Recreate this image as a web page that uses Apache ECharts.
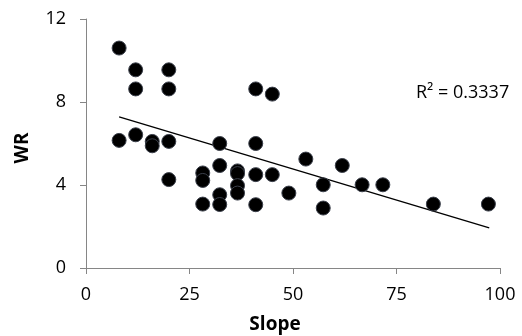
<!DOCTYPE html>
<html><head><meta charset="utf-8">
<script src="https://cdn.jsdelivr.net/npm/echarts@6/dist/echarts.min.js"></script>
<style>html,body{margin:0;padding:0;background:#fff}#c{width:522px;height:336px}</style>
</head><body><div id="c"></div>
<script>
const slope = [8, 8, 12, 12, 12, 16, 16, 20, 20, 20, 20, 28.2, 28.2, 28.2, 32.3, 32.3, 32.3, 32.3, 36.6, 36.6, 36.6, 36.6, 41, 41, 41, 41, 45, 45, 49, 53.1, 57.3, 57.3, 61.9, 66.7, 71.7, 83.9, 97.2];
const wr = [10.6, 6.15, 9.55, 8.63, 6.42, 6.1, 5.89, 9.55, 8.63, 6.1, 4.26, 4.58, 4.22, 3.08, 6.0, 4.94, 3.53, 3.06, 4.68, 4.55, 3.97, 3.61, 8.63, 6.0, 4.5, 3.05, 8.38, 4.5, 3.61, 5.25, 4.01, 2.89, 4.94, 4.01, 4.01, 3.08, 3.08];
const trendX = [8, 97.4];
const trendY = [7.28, 1.93];
const xTicks = [0, 25, 50, 75, 100];
const yTicks = [0, 4, 8, 12];
const xTitle = 'Slope';
const yTitle = 'WR';
const r2Label = 'R\u00B2 = 0.3337';

const chart = echarts.init(document.getElementById('c'), null, {renderer: 'canvas'});
const font = '"Open Sans", Lato, sans-serif';
const axisCol = '#868686';
chart.setOption({
  animation: false,
  grid: {left: 86, right: 22, top: 19, bottom: 68},
  xAxis: {
    type: 'value', min: xTicks[0], max: xTicks[xTicks.length - 1], interval: 25,
    axisLine: {show: true, lineStyle: {color: axisCol, width: 1}},
    axisTick: {show: true, inside: false, length: 6, lineStyle: {color: axisCol}},
    axisLabel: {margin: 18, fontFamily: font, fontSize: 18, color: '#000'},
    splitLine: {show: false}
  },
  yAxis: {
    type: 'value', min: yTicks[0], max: yTicks[yTicks.length - 1], interval: 4,
    axisLine: {show: true, lineStyle: {color: axisCol, width: 1}},
    axisTick: {show: true, inside: false, length: 6, lineStyle: {color: axisCol}},
    axisLabel: {margin: 20, fontFamily: font, fontSize: 18, color: '#000'},
    splitLine: {show: false}
  },
  series: [
    {
      type: 'line', data: trendX.map((x, i) => [x, trendY[i]]), showSymbol: false, symbol: 'none',
      lineStyle: {color: '#000', width: 1.3}, z: 1, silent: true
    },
    {
      type: 'scatter', data: slope.map((x, i) => [x, wr[i]]), symbolSize: 14,
      itemStyle: {color: '#000', borderColor: '#3a3f4a', borderWidth: 1, opacity: 1}, z: 2
    }
  ],
  graphic: [
    {type: 'text', left: 416, top: 84,
     style: {text: r2Label, fontFamily: font, fontSize: 18, fill: '#000'}},
    {type: 'text', x: 275, y: 325,
     style: {text: xTitle, fontFamily: font, fontSize: 19, fontWeight: 'bold', fill: '#000', align: 'center', verticalAlign: 'middle'}},
    {type: 'text', x: 23, y: 148, rotation: Math.PI / 2,
     style: {text: yTitle, fontFamily: font, fontSize: 19, fontWeight: 'bold', fill: '#000', align: 'center', verticalAlign: 'middle'}}
  ]
});
</script></body></html>
